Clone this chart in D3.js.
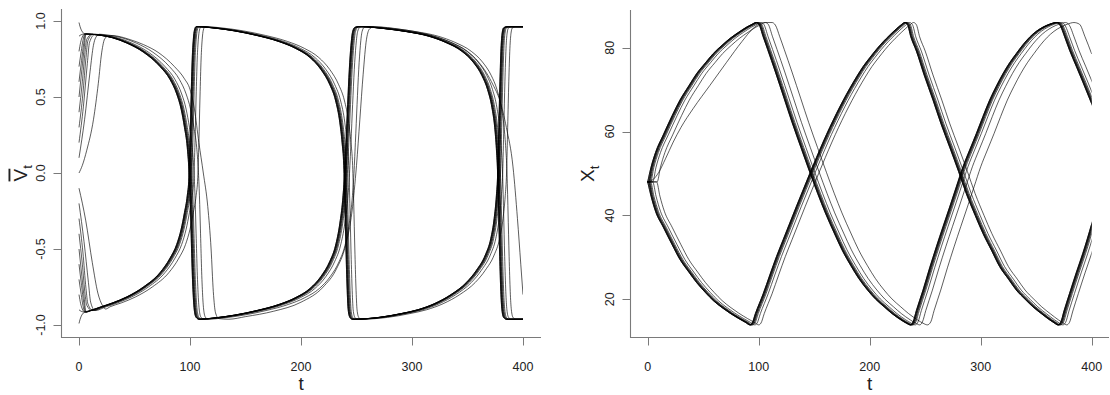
<!DOCTYPE html>
<html><head><meta charset="utf-8">
<script src="https://cdn.jsdelivr.net/npm/d3@7"></script>
<style>
html,body{margin:0;padding:0;background:#fff;}
svg{display:block;}
text{font-family:"Liberation Sans",Arial,Helvetica,sans-serif;fill:#222;}
</style></head><body>
<svg id="chart" width="1110" height="395"></svg>
<script>
// ---------- tick labels ----------
const tTicks = [0, 100, 200, 300, 400];
const vTicks = [-1.0, -0.5, 0.0, 0.5, 1.0];
const xTicks = [20, 40, 60, 80];

// ---------- left panel: V-bar_t ----------
const vUpperStart = [1.0, 0.9, 0.8, 0.7, 0.6, 0.5, 0.4, 0.3, 0.2, 0.1];
const vLowerStart = [-1.0, -0.9, -0.8, -0.7, -0.6, -0.5, -0.4, -0.3, -0.2, -0.1];
// time lag of each curve behind the leading one
const upperLag = [0, 0, 0.3, 0.6, 0.9, 1.3, 1.8, 2.6, 4.5, 8.5];
const lowerLag = [0, 0, 0.3, 0.6, 0.9, 1.3, 1.8, 2.6, 4.5, 8.0];
// first few points of each curve, [t, V]
const vUpperHeads = [
  [[0,0.99],[1,0.962],[2.5,0.935],[4,0.921]],
  [[0,0.90],[2,0.91]],
  [[0,0.80],[1.5,0.86],[3,0.895]],
  [[0,0.70],[2,0.80],[3.5,0.87]],
  [[0,0.60],[2.3,0.74],[4.2,0.85]],
  [[0,0.50],[2.6,0.68],[4.8,0.83]],
  [[0,0.40],[3,0.60],[5.5,0.80],[7,0.88]],
  [[0,0.30],[3.5,0.52],[6.3,0.76],[8,0.87]],
  [[0,0.20],[4,0.44],[7.5,0.72],[9.5,0.86]],
  [[0,0.10],[5,0.35],[10,0.67],[13,0.84],[15,0.89]]
];
const vLowerHeads = [
  [[0,-0.99],[1,-0.962],[2.5,-0.935],[4,-0.921]],
  [[0,-0.90],[2,-0.91]],
  [[0,-0.80],[1.5,-0.86],[3,-0.895]],
  [[0,-0.70],[2,-0.80],[3.5,-0.87]],
  [[0,-0.60],[2.3,-0.74],[4.2,-0.85]],
  [[0,-0.50],[2.6,-0.68],[4.8,-0.83]],
  [[0,-0.40],[3,-0.60],[5.5,-0.80],[7,-0.87]],
  [[0,-0.30],[3.5,-0.52],[6.3,-0.76],[8,-0.86]],
  [[0,-0.20],[4.5,-0.45],[8.5,-0.72],[10.5,-0.85]],
  [[0,-0.10],[6,-0.31],[12,-0.59],[17,-0.79],[21,-0.87],[24,-0.895]]
];
// path of the leading curve of each bundle, [t, V]
const vUpperPath = [
  [5,0.915],[10,0.913],[20,0.905],[30,0.89],[43,0.855],[58,0.795],[73,0.70],[82,0.615],[88,0.52],[92,0.42],[95,0.30],[97.5,0.17],[99,0.02],
  [100,-0.15],[101,-0.40],[102,-0.65],[103,-0.82],[104,-0.91],[105.5,-0.95],[108,-0.962],
  [120,-0.955],[140,-0.935],[160,-0.905],[180,-0.865],[195,-0.82],[208,-0.76],[218,-0.68],[226,-0.58],[231,-0.48],[235,-0.33],[237.5,-0.18],[239,-0.03],
  [240.5,0.20],[242,0.45],[243.5,0.68],[245,0.84],[246.5,0.93],[248.5,0.958],[252,0.963],
  [275,0.95],[295,0.93],[315,0.90],[330,0.86],[345,0.80],[355,0.73],[363,0.64],[368,0.55],[372,0.43],[374.5,0.30],[376,0.16],[377,0.02],
  [378,-0.25],[379,-0.55],[380,-0.78],[381,-0.90],[382.5,-0.95],[385,-0.962],[420,-0.962]
];
const vLowerPath = [
  [5,-0.915],[10,-0.905],[20,-0.88],[30,-0.855],[43,-0.815],[58,-0.75],[73,-0.655],[82,-0.56],[88,-0.47],[92,-0.37],[95,-0.26],[97.5,-0.15],[99,-0.03],
  [100,0.20],[101,0.50],[102,0.75],[103,0.88],[104,0.94],[105.5,0.963],
  [120,0.955],[140,0.935],[160,0.905],[180,0.865],[195,0.82],[208,0.76],[218,0.68],[226,0.58],[231,0.48],[235,0.33],[237,0.20],[238.5,0.05],
  [239.5,-0.20],[240.5,-0.50],[241.5,-0.75],[242.5,-0.90],[244,-0.95],[246,-0.962],
  [270,-0.95],[290,-0.925],[305,-0.90],[320,-0.86],[335,-0.80],[349,-0.72],[358,-0.64],[366,-0.54],[371,-0.43],[374,-0.30],[376,-0.15],[377.2,0.0],
  [378.2,0.30],[379.2,0.60],[380.2,0.82],[381.2,0.92],[382.5,0.955],[385,0.962],[420,0.962]
];
// the slow curve that starts at V = 0
const vLaggard = [
  [0,0],[3,0.05],[7,0.15],[13,0.35],[17.4,0.59],[20.4,0.79],[23.4,0.886],[28,0.905],[35,0.90],[45,0.88],[58,0.845],[72,0.79],[86,0.70],[95,0.62],
  [100,0.55],[104,0.42],[108,0.20],[112,0.0],[116,-0.22],[119,-0.50],[121,-0.78],[123,-0.92],[126,-0.958],[135,-0.962],
  [150,-0.945],[175,-0.91],[200,-0.85],[220,-0.75],[232,-0.63],[240,-0.48],[246,-0.25],[250,0.05],[253,0.35],[256,0.65],[259,0.88],[262,0.95],[266,0.962],
  [290,0.945],[315,0.91],[335,0.86],[350,0.80],[360,0.73],[367,0.66],[373,0.58],[379,0.48],[385,0.30],[391,0.04],[395,-0.30],[398,-0.60],[400,-0.80]
];

// ---------- right panel: X_t ----------
const xStart = 48;
const xUpperPath = [
  [0,48],[3,51.5],[7,55],[14,59.2],[22,63.8],[29,67.5],[37,70.9],[44,73.8],[52,76.4],[59,78.6],[67,80.6],[74,82.2],[82,83.7],[89,84.9],[94,85.6],[97.5,86.0],
  [100,85.6],[104,82.6],[108,79.6],[115,74.2],[123,67.8],[130,62.2],[138,56.2],[146,50.3],[153,45.3],[160,40.6],[168,35.8],[175,31.8],[183,28.0],[190,25.0],[198,22.2],[205,20.1],[213,18.2],[220,16.6],[228,15.1],[233,14.3],[236.5,13.9],
  [239,14.6],[242,17.3],[248,22.2],[254,27.5],[260,32.5],[266,37.3],[272,42.0],[278,46.8],[284,51.6],[290,55.6],[296,59.5],[302,63.6],[308,67.5],[314,70.8],[320,73.8],[326,76.4],[332,78.6],[338,80.7],[344,82.5],[350,83.9],[356,84.9],[362,85.6],[368,86.0],
  [371,85.5],[376,82.3],[380,79.4],[386,75.6],[392,71.8],[396,69.2],[400,66.6],[410,60.0]
];
const xLowerPath = [
  [0,48],[3,44.6],[7,41],[14,37.2],[22,33],[29,29.5],[37,26.5],[44,24],[52,21.6],[59,19.7],[67,18],[74,16.7],[82,15.4],[88,14.5],[92,13.9],
  [94,14.3],[97,16.6],[104,21.3],[110,25.8],[116,30.2],[122,34.2],[128,38.2],[134,42.2],[140,46.1],[146,50],[152,53.8],[158,57.5],[164,61],[170,64.3],[176,67.4],[182,70.3],[188,73],[194,75.5],[200,77.6],[206,79.6],[212,81.4],[218,83],[224,84.5],[228,85.4],[231.5,86.0],
  [234,85.5],[237,82.6],[242,79.2],[249,73.5],[257,67.5],[264,62],[272,56.3],[280,50.5],[287,45.2],[295,40],[302,35.7],[310,31.5],[317,27.8],[325,24.8],[332,22.2],[340,20],[347,18.2],[355,16.5],[362,15.1],[366,14.4],[369.5,13.9],
  [372,14.5],[375,17.2],[380,21.4],[386,26.3],[392,31],[396,34.4],[400,38],[410,46]
];
const xLaggard = [
  [0,48],[5,48.6],[10,50.3],[16,53.5],[23,57.5],[30,61],[41,65.5],[56,71],[71,76.5],[85,81.5],[95,84.6],[102,85.8],[106,86.0],[112,86.0],
  [115,85.4],[119,82.6],[123,79.6],[130,74.2],[138,67.8],[145,62.2],[153,56.2],[161,50.3],[168,45.3],[175,40.6],[183,35.8],[190,31.8],[198,28],[205,25],[213,22.2],[220,20.1],[228,18.2],[235,16.6],[243,15.1],[248,14.3],[252,13.9],
  [255,14.6],[258,17.3],[264,22.2],[270,27.5],[276,32.5],[282,37.3],[288,42],[294,46.8],[300,51.6],[306,55.6],[312,59.5],[318,63.6],[324,67.5],[330,70.8],[336,73.8],[342,76.4],[348,78.6],[354,80.7],[360,82.5],[366,83.9],[372,84.9],[378,85.6],[384,86.0],
  [389,85.6],[394,82.6],[400,78.5]
];

// ---------- build curves ----------
function joinCurve(head, path, lag) {
  const last = head[head.length - 1][0];
  return head.concat(path.filter(p => p[0] + lag > last).map(p => [p[0] + lag, p[1]]));
}
const vCurves = [];
vUpperHeads.forEach((h, i) => vCurves.push(joinCurve(h, vUpperPath, upperLag[i])));
vLowerHeads.forEach((h, i) => vCurves.push(joinCurve(h, vLowerPath, lowerLag[i])));
vCurves.push(vLaggard);

const xCurves = [];
upperLag.forEach(l => xCurves.push(joinCurve([[0, xStart]], xUpperPath, l)));
lowerLag.forEach(l => xCurves.push(joinCurve([[0, xStart]], xLowerPath, l)));
xCurves.push(xLaggard);

// ---------- drawing ----------
const svg = d3.select('#chart');
const axisCol = '#7a7a7a';

function panel(o) {
  const g = svg.append('g');
  const x = o.x, y = o.y;
  const clipId = 'clip' + o.id;
  svg.append('defs').append('clipPath').attr('id', clipId)
    .append('rect').attr('x', x(0) - 4).attr('y', 0).attr('width', x(400) - x(0) + 4).attr('height', 395);

  const line = d3.line().x(d => x(d[0])).y(d => y(d[1])).curve(d3.curveMonotoneX);
  g.append('g').attr('clip-path', `url(#${clipId})`)
    .selectAll('path').data(o.curves).join('path')
    .attr('d', line).attr('fill', 'none').attr('stroke', '#000')
    .attr('stroke-width', 0.75).attr('stroke-opacity', 0.85);

  // L-shaped box
  g.append('path')
    .attr('d', `M${o.left},${o.top}V${o.bottom}H${o.right}`)
    .attr('fill', 'none').attr('stroke', axisCol).attr('stroke-width', 1.1);

  // x axis ticks
  const xa = g.append('g');
  xa.selectAll('line').data(tTicks).join('line')
    .attr('x1', d => Math.round(x(d)) + 0.5).attr('x2', d => Math.round(x(d)) + 0.5)
    .attr('y1', o.bottom).attr('y2', o.bottom + 8)
    .attr('stroke', axisCol).attr('stroke-width', 1);
  xa.selectAll('text').data(tTicks).join('text')
    .attr('x', d => x(d)).attr('y', o.bottom + 33)
    .attr('text-anchor', 'middle').style('font-size', '12.5px')
    .text(d => d);

  // y axis ticks
  const ya = g.append('g');
  ya.selectAll('line').data(o.yTicks).join('line')
    .attr('y1', d => Math.round(y(d)) + 0.5).attr('y2', d => Math.round(y(d)) + 0.5)
    .attr('x1', o.left).attr('x2', o.left - 8)
    .attr('stroke', axisCol).attr('stroke-width', 1);
  ya.selectAll('text').data(o.yTicks).join('text')
    .attr('transform', d => `translate(${o.left - 17},${y(d)}) rotate(-90)`)
    .attr('text-anchor', 'middle').style('font-size', '12.5px')
    .text(o.yFmt);

  // x title
  g.append('text').attr('x', (o.left + o.right) / 2).attr('y', o.bottom + 52)
    .attr('text-anchor', 'middle').style('font-size', '19px').text('t');

  // y title
  const yt = g.append('text')
    .attr('transform', `translate(${o.left + o.titleDx},${(o.top + o.bottom) / 2}) rotate(-90)`)
    .attr('text-anchor', 'middle').style('font-size', '19px');
  const main = yt.append('tspan').text(o.yTitle);
  if (o.overline) main.style('text-decoration', 'overline');
  yt.append('tspan').text('t').style('font-size', '13px').attr('dy', 5);
}

const xL = d3.scaleLinear().domain([0, 400]).range([79, 523]);
const yL = d3.scaleLinear().domain([-1, 1]).range([325, 21]);
panel({ id: 'L', x: xL, y: yL, curves: vCurves, left: 61.5, right: 541, top: 9, bottom: 337.5,
        yTicks: vTicks, yFmt: d => d.toFixed(1), yTitle: 'V', overline: true, titleDx: -35 });

const xR = d3.scaleLinear().domain([0, 400]).range([647.7, 1091.7]);
const yR = d3.scaleLinear().domain([20, 80]).range([299.3, 47.7]);
panel({ id: 'R', x: xR, y: yR, curves: xCurves, left: 630.5, right: 1109, top: 10, bottom: 337.5,
        yTicks: xTicks, yFmt: d => d, yTitle: 'X', overline: false, titleDx: -37 });
</script>
</body></html>
